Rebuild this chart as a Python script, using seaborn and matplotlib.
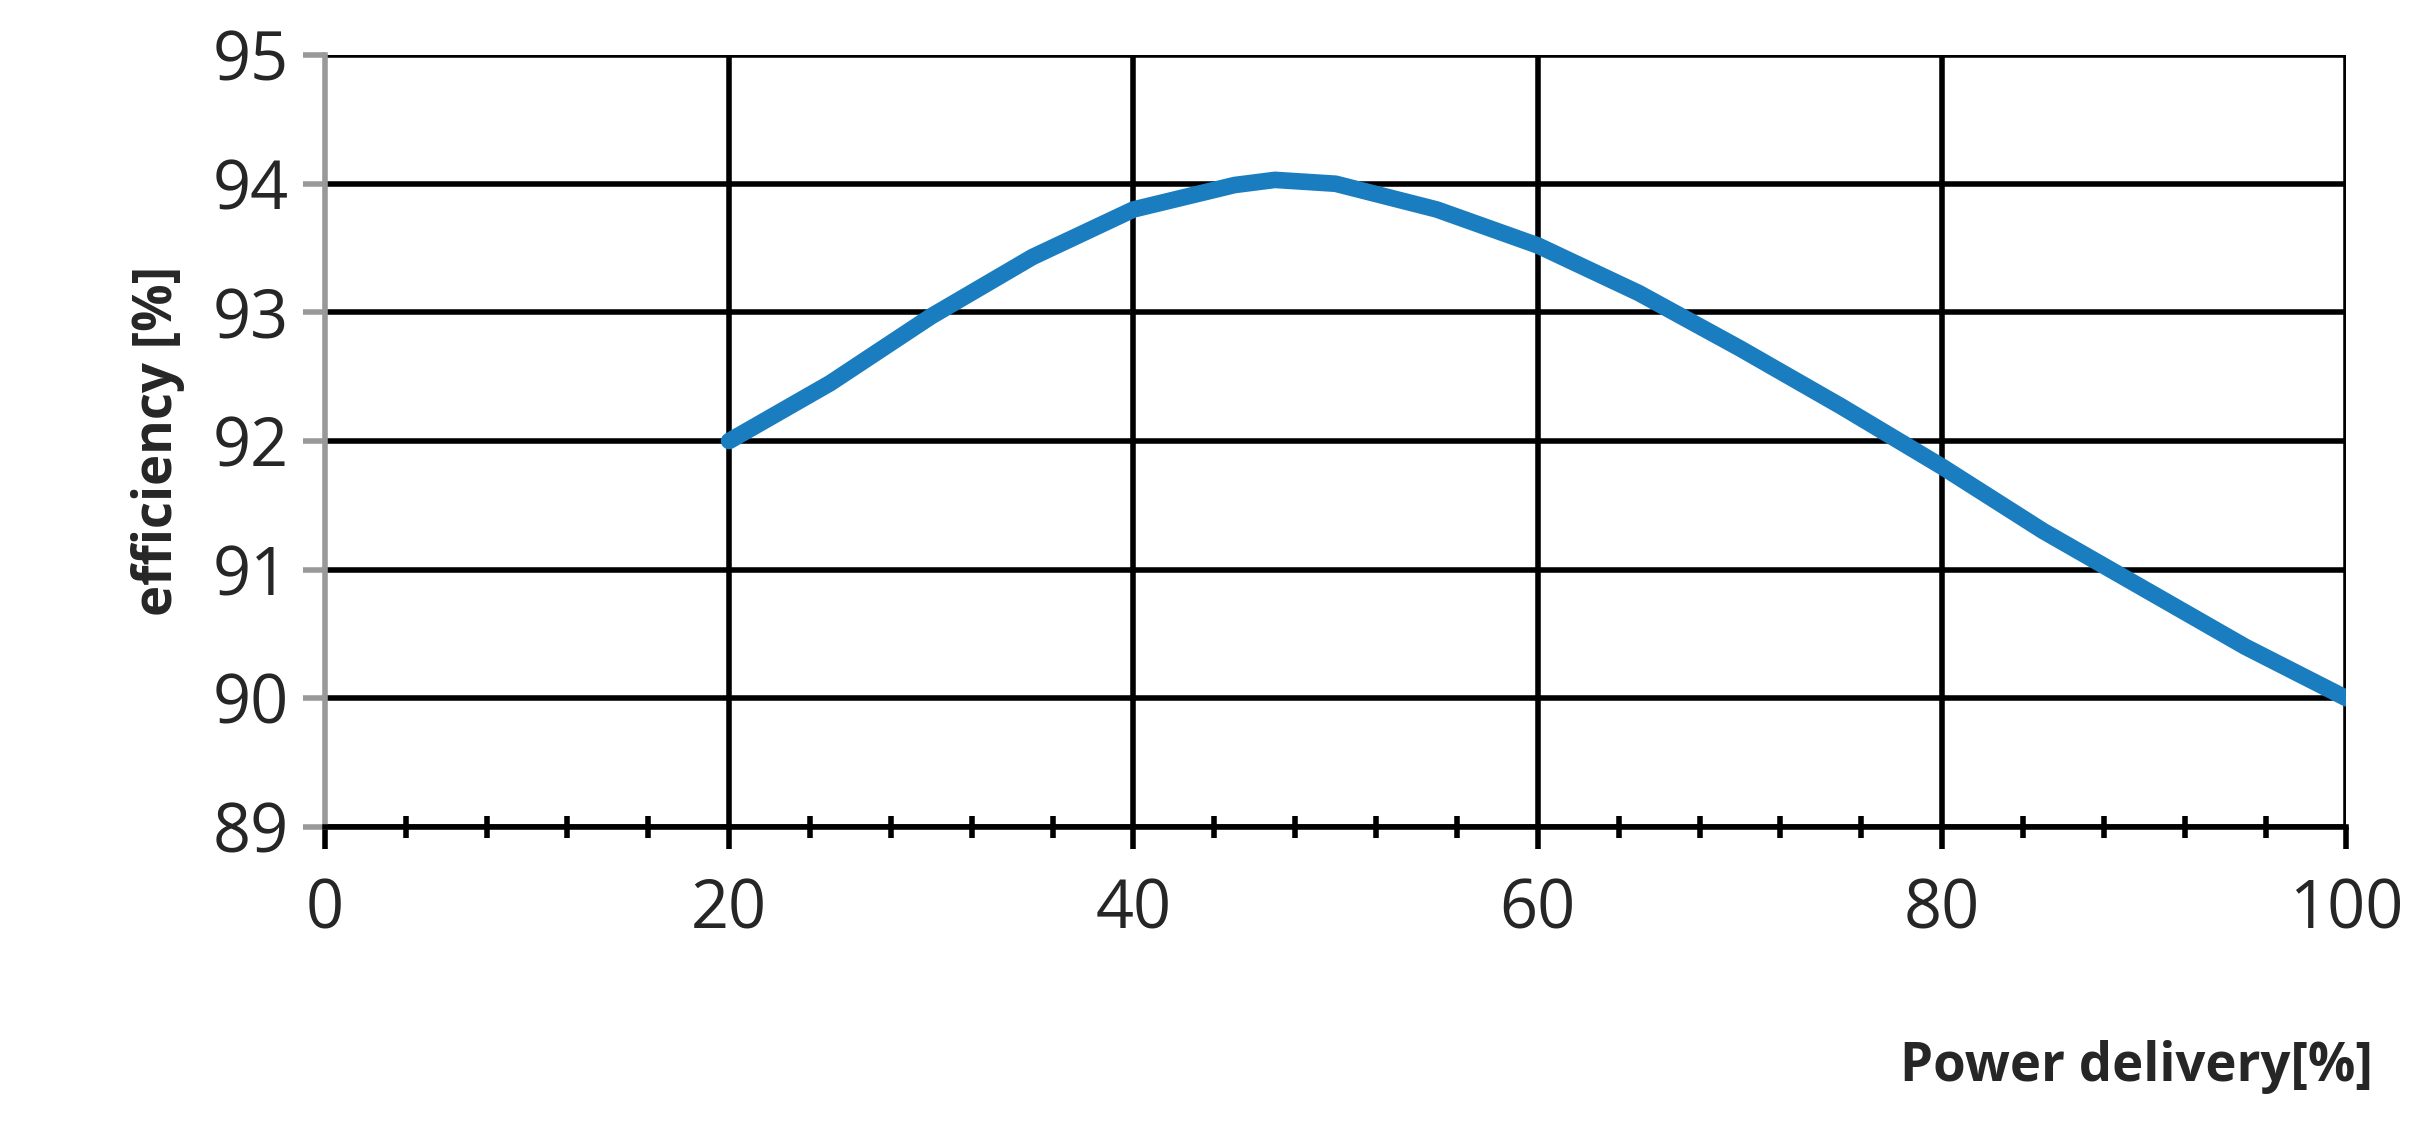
import numpy as np
import pandas as pd
import matplotlib
matplotlib.use("Agg")
import matplotlib.pyplot as plt
import seaborn as sns

power = [20, 25, 30, 35, 40, 45, 47, 50, 55, 60, 65, 70, 75, 80, 85, 90, 95, 100]
efficiency = [92.0, 92.45, 92.97, 93.43, 93.8, 93.99, 94.03, 94.0, 93.8, 93.52,
              93.15, 92.72, 92.27, 91.8, 91.3, 90.85, 90.4, 90.0]
df = pd.DataFrame({"power": power, "eff": efficiency})

sns.set_style("white")
plt.rcParams['font.family'] = ['Open Sans', 'DejaVu Sans']

fig = plt.figure(figsize=(24.24, 11.25), dpi=100)
ax = fig.add_axes([0.134, 0.265, 0.834, 0.686])
sns.lineplot(data=df, x="power", y="eff", ax=ax, color="#1a7dc0", linewidth=12,
             solid_capstyle="round", solid_joinstyle="round")

ax.set_xlim(0, 100)
ax.set_ylim(89, 95)
ax.set_xticks(range(0, 101, 20))
ax.set_xticks(range(0, 101, 4), minor=True)
ax.set_yticks(range(89, 96))
ax.grid(True, axis="y", color="black", linewidth=4)
for xv in [20, 40, 60, 80, 100]:
    ax.axvline(xv, color="black", linewidth=4, zorder=0)
for s in ["top", "right"]:
    ax.spines[s].set_visible(False)
ax.spines["left"].set_color("#999999")
ax.spines["left"].set_linewidth(4)
ax.spines["bottom"].set_color("black")
ax.spines["bottom"].set_linewidth(4)
ax.tick_params(axis="x", which="major", direction="out", length=16, width=4, labelsize=48, pad=20, color="black", bottom=True)
ax.tick_params(axis="x", which="minor", direction="inout", length=16, width=4, color="black", bottom=True)
ax.tick_params(axis="y", direction="out", length=16, width=4, labelsize=48, pad=10, color="#999999", left=True)
ax.set_xlabel("")
ax.set_ylabel("efficiency [%]", fontsize=38, fontweight="bold", labelpad=20)
fig.text(0.979, 0.052, "Power delivery[%]", ha="right", va="center", fontsize=38, fontweight="bold")

fig.savefig("out.png", dpi=100)
